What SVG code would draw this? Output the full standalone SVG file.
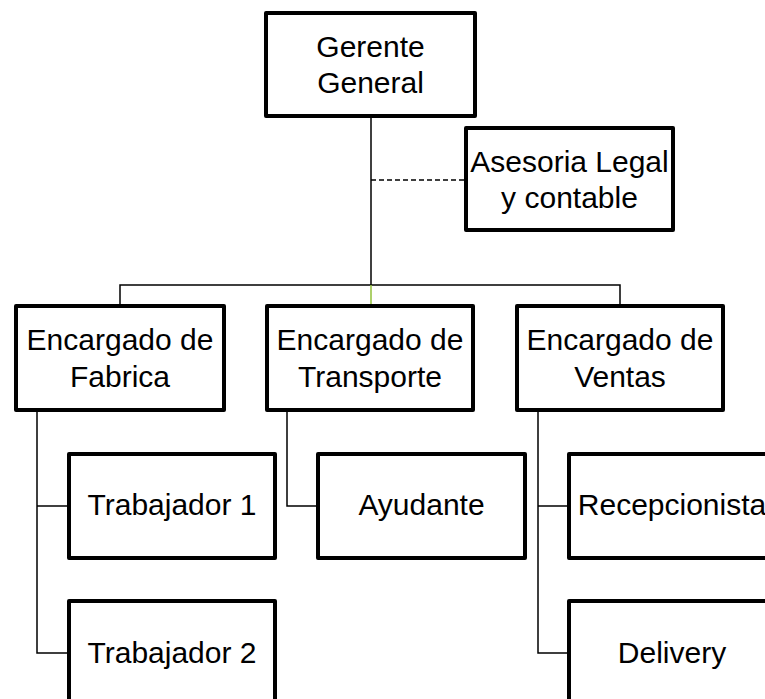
<svg xmlns="http://www.w3.org/2000/svg" width="765" height="699" viewBox="0 0 765 699">
<style>
.box{fill:#fff;stroke:#000;stroke-width:4;stroke-linejoin:round}
.t{font-family:"Liberation Sans",Arial,sans-serif;font-size:30px;fill:#000;text-anchor:middle}
.c{fill:none;stroke:#000;stroke-width:1.5}
</style>
<rect width="765" height="699" fill="#fff"/>
<g id="connectors">
<line class="c" x1="371" y1="116" x2="371" y2="285"/>
<line class="c" x1="371" y1="180" x2="466" y2="180" stroke-dasharray="5,3"/>
<polyline class="c" points="120,306 120,285 620,285 620,306"/>
<line x1="371" y1="285" x2="371" y2="306" stroke="#92c03a" stroke-width="1.5"/>
<polyline class="c" points="37,410 37,653 69,653"/>
<line class="c" x1="37" y1="506" x2="69" y2="506"/>
<polyline class="c" points="287,410 287,506 318,506"/>
<polyline class="c" points="538,410 538,653 569,653"/>
<line class="c" x1="538" y1="506" x2="569" y2="506"/>
</g>
<g id="gerente">
<rect class="box" x="266" y="13" width="209" height="103"/>
<text class="t" x="370.5" y="57">Gerente</text>
<text class="t" x="370.5" y="93">General</text>
</g>
<g id="asesoria">
<rect class="box" x="466" y="128" width="207" height="102"/>
<text class="t" x="569.5" y="172">Asesoria Legal</text>
<text class="t" x="569.5" y="208">y contable</text>
</g>
<g id="fabrica">
<rect class="box" x="16" y="306" width="208" height="104"/>
<text class="t" x="120" y="350">Encargado de</text>
<text class="t" x="120" y="387">Fabrica</text>
</g>
<g id="transporte">
<rect class="box" x="267" y="306" width="206" height="104"/>
<text class="t" x="370" y="350">Encargado de</text>
<text class="t" x="370" y="387">Transporte</text>
</g>
<g id="ventas">
<rect class="box" x="517" y="306" width="206" height="104"/>
<text class="t" x="620" y="350">Encargado de</text>
<text class="t" x="620" y="387">Ventas</text>
</g>
<g id="trabajador1">
<rect class="box" x="69" y="454" width="206" height="104"/>
<text class="t" x="172" y="515">Trabajador 1</text>
</g>
<g id="trabajador2">
<rect class="box" x="69" y="601" width="206" height="110"/>
<text class="t" x="172" y="663">Trabajador 2</text>
</g>
<g id="ayudante">
<rect class="box" x="318" y="454" width="207" height="104"/>
<text class="t" x="421.5" y="515">Ayudante</text>
</g>
<g id="recepcionista">
<rect class="box" x="569" y="454" width="207" height="104"/>
<text class="t" x="672" y="515">Recepcionista</text>
</g>
<g id="delivery">
<rect class="box" x="569" y="601" width="207" height="110"/>
<text class="t" x="672" y="663">Delivery</text>
</g>
</svg>
